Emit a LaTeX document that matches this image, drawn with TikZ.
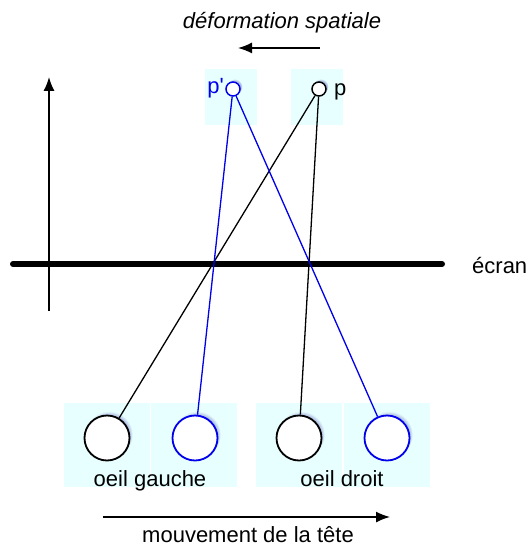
\documentclass[tikz,border=0pt]{standalone}
\usepackage{fontspec}
\setmainfont{Liberation Sans}
\usetikzlibrary{arrows.meta,shadows}
\definecolor{boxc}{RGB}{232,255,255}
\definecolor{eyeblue}{RGB}{0,0,235}
\begin{document}
\begin{tikzpicture}[x=1pt,y=-1pt,
  lbl/.style={font=\fontsize{22}{26}\selectfont, inner sep=0pt},
  bg/.style={fill=boxc, draw=none, inner sep=0pt, minimum width=#1, minimum height=84},
  bg/.default=86,
  eye/.style={circle, draw=#1, line width=1.8pt, fill=white, minimum size=45, inner sep=0pt,
     circular drop shadow={shadow xshift=2pt, shadow yshift=3pt, fill=blue!40!gray, opacity=0.35, shadow scale=1.05}},
  pt/.style={circle, draw=#1, line width=1.5pt, fill=white, minimum size=14, inner sep=0pt,
     circular drop shadow={shadow xshift=1.5pt, shadow yshift=2pt, fill=blue!40!gray, opacity=0.35, shadow scale=1.1}},
  ray/.style={line width=1.3pt, draw=#1},
  arr/.style={line width=1.5pt, -{Latex[length=14pt,width=11pt]}}
]
\useasboundingbox (0,0) rectangle (531,548);
% background boxes
\node[bg=52, minimum height=56] (bpp) at (231,97) {};
\node[bg=52, minimum height=56] (bp) at (317,97) {};
\node[bg] (b1) at (107,445) {};
\node[bg] (b2) at (194,445) {};
\node[bg] (b3) at (299,445) {};
\node[bg] (b4) at (386.5,445) {};
% top label and arrow
\node[lbl, font=\fontsize{22}{26}\selectfont\itshape, anchor=base] (def) at (282,29) {déformation spatiale};
\coordinate (da) at (320,48);
\coordinate (db) at (238,48);
\draw[arr] (da) -- (db);
% vertical axis
\coordinate (va) at (49,311);
\coordinate (vb) at (49,77);
\draw[arr] (va) -- (vb);
% screen
\coordinate (sa) at (13,264);
\coordinate (sb) at (442,264);
\draw[line width=6pt, line cap=round] (sa) -- (sb);
\node[lbl, anchor=base west] (ecran) at (472,273) {écran};
% eyes
\node[eye=black] (eL) at (107,438) {};
\node[eye=eyeblue] (eLb) at (195,438) {};
\node[eye=black] (eR) at (299,438) {};
\node[eye=eyeblue] (eRb) at (387,438) {};
% points
\node[pt=eyeblue] (pp) at (233,89) {};
\node[pt=black] (p) at (319,89) {};
\node[lbl, text=eyeblue, anchor=base east] (ppl) at (224,94) {p\textquotesingle};
\node[lbl, anchor=base west] (pl) at (334,96) {p};
% rays
\draw[ray=black] (eL) -- (p);
\draw[ray=black] (eR) -- (p);
\draw[ray=eyeblue] (eLb) -- (pp);
\draw[ray=eyeblue] (eRb) -- (pp);
% eye labels
\node[lbl, anchor=base] (og) at (150,486) {oeil gauche};
\node[lbl, anchor=base] (od) at (342,486) {oeil droit};
% bottom arrow
\coordinate (ma) at (103,517);
\coordinate (mb) at (390,517);
\draw[arr] (ma) -- (mb);
\node[lbl, anchor=base] (mv) at (248,542) {mouvement de la tête};
\end{tikzpicture}
\end{document}
